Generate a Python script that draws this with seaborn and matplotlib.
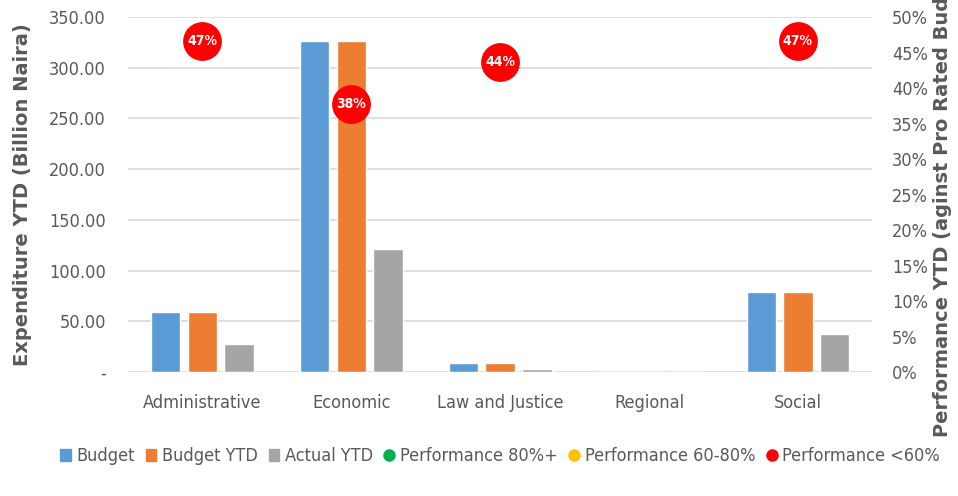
import numpy as np
import pandas as pd
import matplotlib.pyplot as plt
import seaborn as sns
from matplotlib.lines import Line2D
from matplotlib.patches import Patch
from matplotlib.ticker import FuncFormatter, PercentFormatter

# data
categories = ['Administrative', 'Economic', 'Law and Justice', 'Regional', 'Social']
budget = [59.2, 326.5, 8.6, 0.0, 79.0]
budget_ytd = [59.2, 326.5, 8.6, 0.0, 79.0]
actual_ytd = [27.6, 121.6, 3.3, 0.0, 37.5]
performance = [0.466, 0.377, 0.436, np.nan, 0.466]

series = ['Budget', 'Budget YTD', 'Actual YTD']
colors = ['#5B9BD5', '#ED7D31', '#A5A5A5']
grey = '#595959'

sns.set_style('white')
plt.rcParams['font.family'] = ['DejaVu Sans']
plt.rcParams['font.stretch'] = 'condensed'

df = pd.DataFrame({
    'Category': categories * 3,
    'Series': [s for s in series for _ in categories],
    'Value': budget + budget_ytd + actual_ytd,
})

fig = plt.figure(figsize=(9.58, 4.96), dpi=100)
ax = fig.add_axes([0.1336, 0.25, 0.777, 0.7157])

sns.barplot(data=df, x='Category', y='Value', hue='Series', palette=colors,
            width=0.74, gap=0.2, ax=ax, legend=False, saturation=1)

ax.set_ylim(0, 350)
ax.set_yticks(np.arange(0, 351, 50))
ax.yaxis.set_major_formatter(FuncFormatter(lambda v, p: '-' if v == 0 else f'{v:.2f}'))
ax.grid(axis='y', color='#D9D9D9', linewidth=1.2)
ax.set_axisbelow(True)
for s in ax.spines.values():
    s.set_visible(False)
ax.tick_params(axis='both', length=0, labelsize=13, colors=grey)
ax.tick_params(axis='x', pad=16)
ax.tick_params(axis='y', pad=16)
ax.set_xlabel('')
ax.set_ylabel('Expenditure YTD (Billion Naira)', fontsize=14, fontweight='bold',
              color=grey, fontstretch='normal', labelpad=12)

ax2 = ax.twinx()
ax2.set_ylim(0, 0.5)
ax2.set_yticks(np.arange(0, 0.51, 0.05))
ax2.yaxis.set_major_formatter(PercentFormatter(1.0, decimals=0))
for s in ax2.spines.values():
    s.set_visible(False)
ax2.tick_params(axis='y', length=0, labelsize=13, colors=grey, pad=14)
ax2.set_ylabel('Performance YTD (aginst Pro Rated Budget)', fontsize=14,
               fontweight='bold', color=grey, fontstretch='normal', labelpad=4)

xs = np.arange(len(categories))
ax2.scatter(xs, performance, s=780, color='#FF0000', zorder=5, linewidths=0)
for x, p in zip(xs, performance):
    if not np.isnan(p):
        ax2.text(x, p, f'{p:.0%}', ha='center', va='center', color='white',
                 fontsize=10, fontweight='bold', zorder=6)
ax.set_xlim(-0.5, len(categories) - 0.5)

handles = [Patch(color=c, label=l) for c, l in zip(colors, series)]
for c, l in [('#00B050', 'Performance 80%+'), ('#FFC000', 'Performance 60-80%'),
             ('#FF0000', 'Performance <60%')]:
    handles.append(Line2D([], [], marker='o', linestyle='', markersize=8,
                          markerfacecolor=c, markeredgecolor=c, label=l))
fig.legend(handles=handles, loc='center', bbox_to_anchor=(0.522, 0.08), ncol=6,
           frameon=False, fontsize=13, handlelength=0.6, handletextpad=0.3,
           columnspacing=0.6, labelcolor=grey)

fig.savefig('out.png', dpi=100)
